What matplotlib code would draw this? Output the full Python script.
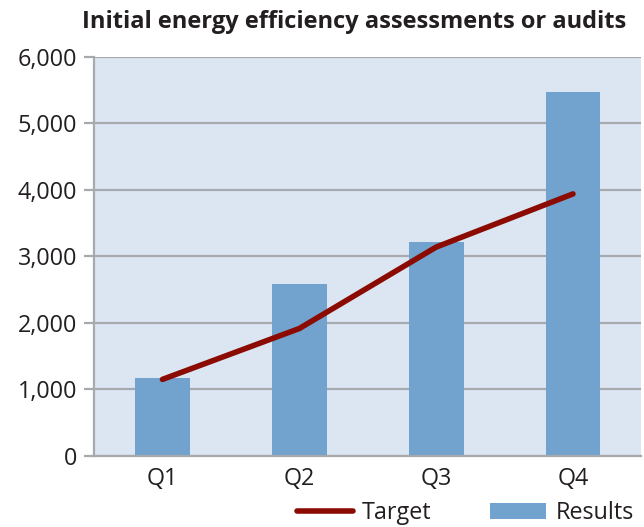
import numpy as np
import matplotlib
matplotlib.use('Agg')
import matplotlib.pyplot as plt
from matplotlib.ticker import FuncFormatter

# Data
quarters = ['Q1', 'Q2', 'Q3', 'Q4']
results = [1165, 2580, 3215, 5465]
target = [1150, 1915, 3140, 3940]

bar_color = '#72A2CE'
line_color = '#8B0A02'
bg_color = '#DCE6F3'
grid_color = '#A7AAAD'
text_color = '#231F20'

plt.rcParams['font.family'] = ['Open Sans', 'DejaVu Sans']

fig = plt.figure(figsize=[6.44, 5.27], dpi=100)
ax = fig.add_axes([0.146, 0.135, 0.85, 0.757])
ax.set_facecolor(bg_color)

x = np.arange(len(quarters))
ax.bar(x, results, width=0.4, color=bar_color, label='Results', zorder=3)
ax.plot(x, target, color=line_color, lw=4, solid_capstyle='round',
        label='Target', zorder=4)

ax.set_xlim(-0.5, 3.5)
ax.set_ylim(0, 6000)
ax.set_yticks(np.arange(0, 6001, 1000))
ax.yaxis.set_major_formatter(FuncFormatter(lambda v, p: '{:,.0f}'.format(v)))
ax.grid(axis='y', color=grid_color, lw=1.6, zorder=1)
ax.set_xticks(x)
ax.set_xticklabels(quarters)

for s in ['top', 'right']:
    ax.spines[s].set_visible(False)
for s in ['left', 'bottom']:
    ax.spines[s].set_color(grid_color)
    ax.spines[s].set_linewidth(1.6)
    ax.spines[s].set_zorder(5)

ax.tick_params(axis='y', length=7, width=1.6, color=grid_color,
               labelsize=16.8, labelcolor=text_color, pad=5)
ax.tick_params(axis='x', length=0, labelsize=16.8, labelcolor=text_color, pad=8)

fig.text(0.55, 1 - 22 / 527, 'Initial energy efficiency assessments or audits',
         fontsize=17, fontweight='bold', color=text_color,
         ha='center', va='center')

ax.legend(loc='center', bbox_to_anchor=(0.678, -0.144),
          ncol=2, frameon=False, fontsize=16.8, handlelength=2.4,
          columnspacing=2.5, handletextpad=0.4, labelcolor=text_color,
          borderaxespad=0)

plt.savefig('out.png', dpi=100)
